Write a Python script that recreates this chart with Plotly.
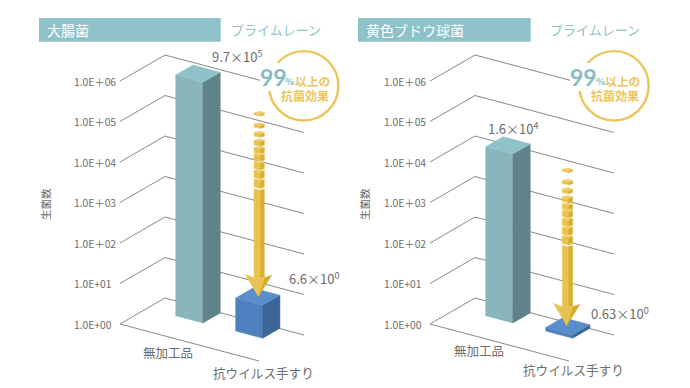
import math
import plotly.graph_objects as go

# ---- data ----
panel_titles = ["大腸菌", "黄色ブドウ球菌"]
series_name = "プライムレーン"
categories = ["無加工品", "抗ウイルス手すり"]
tick_exponents = [0, 1, 2, 3, 4, 5, 6]
tick_labels = ["1.0E+00", "1.0E+01", "1.0E＋02", "1.0E＋03", "1.0E＋04", "1.0E＋05", "1.0E＋06"]
untreated_counts = [9.7e5, 1.6e4]
treated_counts = [6.6, 0.63]
untreated_labels = ["9.7×10<sup>5</sup>", "1.6×10<sup>4</sup>"]
treated_labels = ["6.6×10<sup>0</sup>", "0.63×10<sup>0</sup>"]
y_title = "生菌数"
badge_big, badge_pct, badge_a, badge_b = "99", "%", "以上の", "抗菌効果"

# ---- drawing style ----
FONT = "Noto Sans CJK JP"
GRID = "#8a8a8a"
TEXT = "#6c6c6c"
TEAL = "#8fc1c9"
COL_FRONT, COL_SIDE, COL_TOP = "#8ab5bc", "#5f8388", "#8fc1c9"
CUBE_FRONT, CUBE_SIDE, CUBE_TOP = "#4e81bd", "#3a6594", "#5a8dcb"
ARR_FRONT, ARR_SIDE, ARR_TOP = "#e9c352", "#dcae2e", "#f0cf6f"
YEL = "#ecc55a"

PANEL_DX = 310
OX, OY = 120, 324
DEPTH = (45, -26)
WIDTH = (139, 37)
DECADE = 40.5
BAR_DECADE = 40.2
COL_D, COL_W = (0.609, 0.994), (0.2036, 0.3996)
CUBE_D, CUBE_W = (0.6266, 1.01), (0.6295, 0.8235)
MIN_LOG = 0.085

fig = go.Figure()


def project(p, d, w, lg, decade=DECADE):
    return (OX + p * PANEL_DX + DEPTH[0] * d + WIDTH[0] * w,
            OY + DEPTH[1] * d + WIDTH[1] * w - decade * lg)


def line(pts, color=GRID, width=1):
    fig.add_trace(go.Scatter(x=[q[0] for q in pts], y=[q[1] for q in pts], mode="lines",
                             line=dict(color=color, width=width), hoverinfo="skip", showlegend=False))


def poly(pts, color):
    fig.add_trace(go.Scatter(x=[q[0] for q in pts] + [pts[0][0]], y=[q[1] for q in pts] + [pts[0][1]],
                             mode="lines", fill="toself", fillcolor=color,
                             line=dict(color=color, width=0.5), hoverinfo="skip", showlegend=False))


def box(p, ds, ws, value, front, side, top):
    lg = max(math.log10(value), MIN_LOG)
    d0, d1 = ds
    w0, w1 = ws
    P = lambda d, w, l: project(p, d, w, l, BAR_DECADE)
    poly([P(d0, w0, 0), P(d0, w1, 0), P(d0, w1, lg), P(d0, w0, lg)], front)
    poly([P(d0, w1, 0), P(d1, w1, 0), P(d1, w1, lg), P(d0, w1, lg)], side)
    poly([P(d0, w0, lg), P(d0, w1, lg), P(d1, w1, lg), P(d1, w0, lg)], top)


arrow_left = [254, 562.3]
arrow_start = [114, 170.5]
arrow_head_top = [274.5, 303.5]
dash_offsets = [0, 11.8, 20.5, 28.8, 36.2, 43.2, 51.5, 60.2, 69.5]
dash_heights = [2.5, 3.5, 4, 5, 5.5, 6.5, 7, 7.5, 8]
SHAFT_FRONT, SHAFT_SIDE = 6.3, 4
HEAD_W = 13.3
HEAD_H = 22


def arrow(p):
    xl = arrow_left[p]
    xm, xr = xl + SHAFT_FRONT, xl + SHAFT_FRONT + SHAFT_SIDE
    xc = xl + 4.6
    for off, h in zip(dash_offsets, dash_heights):
        y = arrow_start[p] + off - h / 2
        poly([(xl, y), (xm, y + 1.3), (xm, y + h + 0.8), (xl, y + h - 0.4)], ARR_FRONT)
        poly([(xm, y + 1.3), (xr, y), (xr, y + h - 0.4), (xm, y + h + 0.8)], ARR_SIDE)
        poly([(xl, y), (xc + 1, y - 1.4), (xr, y), (xm, y + 1.3)], ARR_TOP)
    y0 = arrow_start[p] + 75
    y1 = arrow_head_top[p] + 3
    poly([(xl, y0), (xm, y0 + 1.3), (xm, y1), (xl, y1)], ARR_FRONT)
    poly([(xm, y0 + 1.3), (xr, y0), (xr, y1), (xm, y1)], ARR_SIDE)
    cx = xl + 4.4
    top = arrow_head_top[p]
    tip = (cx, top + HEAD_H)
    poly([(cx + 5.8, top + 3.3), (cx + HEAD_W, top + 0.8), tip], "#d9ab2b")
    poly([(cx - HEAD_W + 0.2, top), (cx - 5, top + 3), (cx + 5.8, top + 3.3), tip], ARR_FRONT)


def note(x, y, text, size, color=TEXT, anchor="left", bold=False, **kw):
    if bold:
        text = "<b>" + text + "</b>"
    fig.add_annotation(x=x, y=y, xref="x", yref="y", text=text, showarrow=False, xanchor=anchor,
                       yanchor="middle", font=dict(family=kw.pop("family", FONT), size=size, color=color),
                       borderpad=0, borderwidth=0, **kw)


value_pos = [(212, 56), (487.7, 128)]
treated_pos = [(289, 278), (591, 312.5)]
cat1_pos = [(142.7, 352.7), (454, 350.3)]
cat2_pos = [(213, 372), (523.3, 369)]
ytitle_pos = [(45, 204), (364, 204)]
header_x = [(39, 220.7), (358, 530.7)]
title_x = [46.7, 366]
series_x = [231, 550]
badge_cx = [303.7, 614]

for p in range(2):
    # floor front edge and decade grid
    line([project(p, 0, 0, 0), project(p, 0, 1, 0)])
    for e in tick_exponents:
        line([project(p, 0, 0, e), project(p, 1, 0, e), project(p, 1, 1, e)])
        x, y = project(p, 0, 0, e)
        note(x - 45.7, y, tick_labels[e], 10.3)
    box(p, COL_D, COL_W, untreated_counts[p], COL_FRONT, COL_SIDE, COL_TOP)
    box(p, CUBE_D, CUBE_W, treated_counts[p], CUBE_FRONT, CUBE_SIDE, CUBE_TOP)
    arrow(p)

    fig.add_shape(type="rect", xref="x", yref="y", x0=header_x[p][0], x1=header_x[p][1], y0=18, y1=41.7,
                  fillcolor=TEAL, line=dict(width=0), layer="above")
    cx, cy, r = badge_cx[p], 85.8, 34.7
    fig.add_shape(type="circle", xref="x", yref="y", x0=cx - r, x1=cx + r, y0=cy - r, y1=cy + r,
                  fillcolor="white", line=dict(color=YEL, width=2.4), layer="above")

    note(title_x[p], 29.5, panel_titles[p], 14, "white")
    note(series_x[p], 29.3, series_name, 13, TEAL)
    note(value_pos[p][0], value_pos[p][1], untreated_labels[p], 13)
    note(treated_pos[p][0], treated_pos[p][1], treated_labels[p], 13)
    note(cat1_pos[p][0], cat1_pos[p][1], categories[0], 12.5)
    note(cat2_pos[p][0], cat2_pos[p][1], categories[1], 12.6)
    note(ytitle_pos[p][0], ytitle_pos[p][1], y_title, 10.5, anchor="center", textangle=-90)

    note(cx - 43.7, 76.7, badge_big, 23, "#87bcc6", bold=True, family="Lato", bgcolor="white")
    note(cx - 18.5, 81, badge_pct, 9.5, "#87bcc6", bold=True)
    note(cx - 8.7, 80, badge_a, 11.7, YEL, bold=True)
    note(cx - 23, 95, badge_b, 12, YEL, bold=True)

fig.update_layout(
    width=690, height=388, autosize=False, margin=dict(l=0, r=0, t=0, b=0),
    paper_bgcolor="white", plot_bgcolor="white", showlegend=False,
    xaxis=dict(range=[0, 690], visible=False, fixedrange=True),
    yaxis=dict(range=[388, 0], visible=False, fixedrange=True),
)
fig.write_html("out.html", config={"displayModeBar": False},
               post_script="document.body.style.margin='0';document.documentElement.style.overflow='hidden';")
